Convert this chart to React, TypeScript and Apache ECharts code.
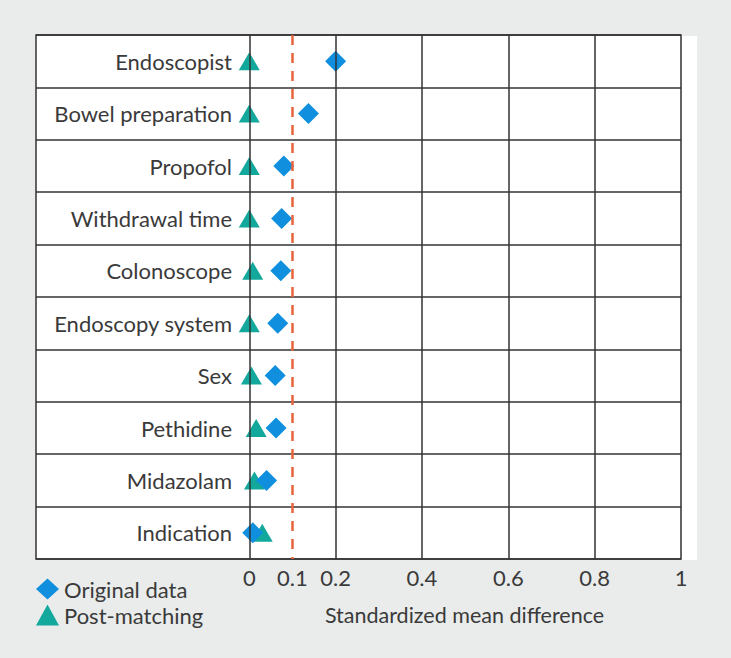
import React, { useEffect, useRef } from "react";
import * as echarts from "echarts";

// Covariates, listed top to bottom
const categories = [
  "Endoscopist",
  "Bowel preparation",
  "Propofol",
  "Withdrawal time",
  "Colonoscope",
  "Endoscopy system",
  "Sex",
  "Pethidine",
  "Midazolam",
  "Indication",
];

// Standardized mean differences before and after matching
const originalData = [0.2, 0.137, 0.08, 0.075, 0.073, 0.066, 0.06, 0.062, 0.04, 0.008];
const postMatching = [0.0, 0.0, 0.0, 0.0, 0.008, 0.0, 0.005, 0.016, 0.012, 0.03];

// Axis labels and reference lines
const tickValues = [0, 0.1, 0.2, 0.4, 0.6, 0.8, 1];
const gridLineValues = [0, 0.2, 0.4, 0.6, 0.8];
const thresholdValue = 0.1;

const FONT = "Lato";
const TEXT = "#3a3a3a";
const LINE = "#333333";

export default function App() {
  const ref = useRef<HTMLDivElement>(null);

  useEffect(() => {
    if (!ref.current) return;
    const chart = echarts.init(ref.current, null, { renderer: "svg" });

    chart.setOption({
      animation: false,
      backgroundColor: "#e9eceb",
      textStyle: { fontFamily: FONT },
      grid: {
        left: 36,
        right: 50,
        top: 35,
        bottom: 99,
        show: true,
        backgroundColor: "#ffffff",
        borderColor: LINE,
        borderWidth: 1.5,
      },
      graphic: [
        {
          type: "rect",
          shape: { x: 682, y: 36, width: 15, height: 524 },
          style: { fill: "#ffffff" },
          silent: true,
        },
        {
          type: "text",
          x: 464.5,
          y: 615,
          style: {
            text: "Standardized mean difference",
            fill: TEXT,
            font: `21.5px ${FONT}`,
            textAlign: "center",
            textVerticalAlign: "middle",
          },
        },
      ],
      legend: {
        data: ["Original data", "Post-matching"],
        orient: "vertical",
        left: 31,
        top: 573,
        itemWidth: 23,
        itemHeight: 21,
        itemGap: 4,
        textStyle: { fontSize: 22, color: TEXT, fontFamily: FONT },
      },
      xAxis: {
        type: "value",
        min: -0.494,
        max: 1,
        axisLine: { show: false },
        axisTick: { show: false },
        splitLine: { show: false },
        axisLabel: {
          customValues: tickValues,
          fontSize: 22,
          color: TEXT,
          margin: 7,
          fontFamily: FONT,
        },
      },
      yAxis: {
        type: "category",
        inverse: true,
        data: categories,
        axisLine: { show: false },
        axisTick: { show: false },
        splitLine: { show: true, lineStyle: { color: LINE, width: 1.5 } },
        axisLabel: {
          margin: -196,
          fontSize: 22,
          color: TEXT,
          fontFamily: FONT,
        },
      },
      series: [
        {
          name: "reference",
          type: "scatter",
          data: [],
          silent: true,
          markLine: {
            silent: true,
            symbol: "none",
            label: { show: false },
            data: [
              ...gridLineValues.map((v) => ({
                xAxis: v,
                lineStyle: { color: LINE, width: 1.5, type: "solid" },
              })),
              {
                xAxis: thresholdValue,
                lineStyle: { color: "#e8643c", width: 2.5, type: [10, 8] },
              },
            ],
          },
        },
        {
          name: "Post-matching",
          type: "scatter",
          symbol: "triangle",
          symbolSize: [21, 18],
          itemStyle: { color: "#12a89c", opacity: 1 },
          data: postMatching.map((v, i) => [v, categories[i]]),
          z: 3,
        },
        {
          name: "Original data",
          type: "scatter",
          symbol: "diamond",
          symbolSize: 21,
          itemStyle: { color: "#0f8fdd", opacity: 1 },
          data: originalData.map((v, i) => [v, categories[i]]),
          z: 4,
        },
      ],
    });

    return () => chart.dispose();
  }, []);

  return (
    <div
      ref={ref}
      style={{ position: "fixed", left: 0, top: 0, width: 731, height: 658 }}
    />
  );
}
